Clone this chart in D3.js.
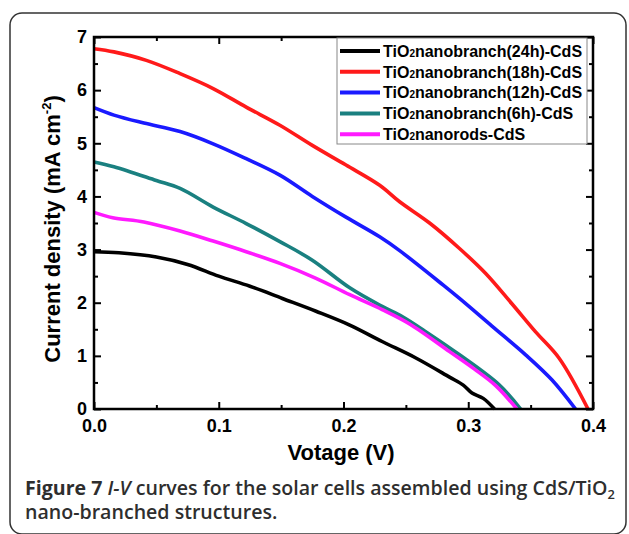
<!DOCTYPE html>
<html><head><meta charset="utf-8">
<script src="https://cdn.jsdelivr.net/npm/d3@7"></script>
<style>html,body{margin:0;padding:0;background:#fff;}svg{display:block;}</style>
</head><body>
<svg id="c" width="629" height="534"></svg>
<script>
// ---- data (V, J) ----
const legendLabels = ["nanobranch(24h)-CdS","nanobranch(18h)-CdS","nanobranch(12h)-CdS","nanobranch(6h)-CdS","nanorods-CdS"];
const colors = ["#000000","#ff1a1a","#1a1aff","#1a8080","#ff1aff"];
const black24 = [[0,2.96],[0.02,2.94],[0.05,2.86],[0.075,2.72],[0.1,2.50],[0.125,2.31],[0.151,2.08],[0.178,1.84],[0.205,1.58],[0.231,1.27],[0.258,0.96],[0.285,0.60],[0.296,0.45],[0.303,0.30],[0.312,0.20],[0.321,0]];
const red18 = [[0,6.78],[0.016,6.72],[0.042,6.56],[0.069,6.31],[0.0955,6.03],[0.122,5.68],[0.149,5.34],[0.175,4.96],[0.202,4.59],[0.229,4.21],[0.245,3.90],[0.269,3.50],[0.293,3.02],[0.314,2.55],[0.335,1.98],[0.354,1.45],[0.373,0.95],[0.396,0]];
const blue12 = [[0,5.67],[0.016,5.53],[0.04,5.38],[0.069,5.22],[0.0955,4.99],[0.122,4.71],[0.149,4.40],[0.175,4.00],[0.202,3.61],[0.229,3.24],[0.245,2.98],[0.28,2.33],[0.293,2.08],[0.319,1.56],[0.346,1.02],[0.367,0.55],[0.386,0]];
const teal6 = [[0,4.65],[0.016,4.56],[0.05,4.30],[0.069,4.15],[0.0955,3.80],[0.122,3.49],[0.149,3.15],[0.175,2.80],[0.205,2.28],[0.231,1.93],[0.247,1.74],[0.265,1.47],[0.293,1.02],[0.325,0.45],[0.342,0]];
const magentaRods = [[0,3.70],[0.015,3.60],[0.04,3.52],[0.069,3.35],[0.0955,3.16],[0.122,2.96],[0.149,2.74],[0.178,2.46],[0.205,2.15],[0.231,1.87],[0.253,1.60],[0.285,1.08],[0.305,0.75],[0.322,0.44],[0.339,0]];
const allSeries = [black24, red18, blue12, teal6, magentaRods];
const xTicks = [0,0.1,0.2,0.3,0.4];
const xMinor = [0.05,0.15,0.25,0.35];
const yTicks = [0,1,2,3,4,5,6,7];
const yMinor = [0.5,1.5,2.5,3.5,4.5,5.5,6.5];

const svg = d3.select("#c");
const FONT = "'Liberation Sans', Arial, sans-serif";

// frame
svg.append("rect").attr("x",10).attr("y",13).attr("width",616).attr("height",521)
  .attr("rx",12).attr("fill","none").attr("stroke","#333").attr("stroke-width",1.5);

const x = d3.scaleLinear().domain([0,0.4]).range([94,593]);
const y = d3.scaleLinear().domain([0,7]).range([409,37]);

// curves
const line = d3.line().x(d=>x(d[0])).y(d=>y(d[1])).curve(d3.curveCatmullRom.alpha(0.5));
allSeries.forEach((s,i)=>{
  svg.append("path").datum(s).attr("d",line).attr("fill","none")
    .attr("stroke",colors[i]).attr("stroke-width",3.6).attr("stroke-linejoin","round");
});

function styleAxis(g, labels){
  g.select(".domain").remove();
  g.selectAll(".tick line").attr("stroke","#000").attr("stroke-width",2);
  if(labels){
    g.selectAll(".tick text").attr("font-family",FONT).attr("font-weight","bold")
      .attr("font-size",18).attr("fill","#000");
  } else g.selectAll(".tick text").remove();
}
const fmt = d3.format(".1f");
styleAxis(svg.append("g").attr("transform","translate(0,409)")
  .call(d3.axisBottom(x).tickValues(xTicks).tickFormat(fmt).tickSize(-7).tickPadding(10)), true);
styleAxis(svg.append("g").attr("transform","translate(0,409)")
  .call(d3.axisBottom(x).tickValues(xMinor).tickSize(-4)), false);
styleAxis(svg.append("g").attr("transform","translate(0,37)")
  .call(d3.axisTop(x).tickValues(xTicks).tickSize(-7)), false);
styleAxis(svg.append("g").attr("transform","translate(0,37)")
  .call(d3.axisTop(x).tickValues(xMinor).tickSize(-4)), false);
styleAxis(svg.append("g").attr("transform","translate(94,0)")
  .call(d3.axisLeft(y).tickValues(yTicks).tickFormat(d3.format("d")).tickSize(-7).tickPadding(7)), true);
styleAxis(svg.append("g").attr("transform","translate(94,0)")
  .call(d3.axisLeft(y).tickValues(yMinor).tickSize(-4)), false);
styleAxis(svg.append("g").attr("transform","translate(593,0)")
  .call(d3.axisRight(y).tickValues(yTicks).tickSize(-7)), false);
styleAxis(svg.append("g").attr("transform","translate(593,0)")
  .call(d3.axisRight(y).tickValues(yMinor).tickSize(-4)), false);

// plot frame
svg.append("rect").attr("x",x(0)).attr("y",y(7)).attr("width",x(0.4)-x(0)).attr("height",y(0)-y(7))
  .attr("fill","none").attr("stroke","#000").attr("stroke-width",2.5);

// legend
const lg = svg.append("g");
lg.append("rect").attr("x",337).attr("y",38).attr("width",250).attr("height",106)
  .attr("fill","#fff").attr("stroke","#888").attr("stroke-width",1);
legendLabels.forEach((t,i)=>{
  const cy = 51 + i*20.8;
  lg.append("line").attr("x1",340).attr("x2",380).attr("y1",cy).attr("y2",cy)
    .attr("stroke",colors[i]).attr("stroke-width",4);
  const tx = lg.append("text").attr("x",383).attr("y",cy+5.8).attr("font-family",FONT)
    .attr("font-weight","bold").attr("font-size",16).attr("fill","#000");
  tx.append("tspan").text("TiO");
  tx.append("tspan").attr("font-size",10).text("2");
  tx.append("tspan").text(t);
});

// axis titles
const yt = svg.append("text").attr("transform","translate(60,229) rotate(-90)")
  .attr("text-anchor","middle").attr("font-family",FONT).attr("font-weight","bold")
  .attr("font-size",22).attr("fill","#000");
yt.append("tspan").text("Current density (mA cm");
yt.append("tspan").attr("font-size",13).attr("dy",-9).text("-2");
yt.append("tspan").attr("dy",9).text(")");

svg.append("text").attr("x",341).attr("y",460).attr("text-anchor","middle")
  .attr("font-family",FONT).attr("font-weight","bold").attr("font-size",22).attr("fill","#000")
  .text("Votage (V)");

// caption: separate text pieces laid out in sequence
const CF = "'Open Sans','Noto Sans',sans-serif";
const pieces = [
  {t:"Figure 7", w:700, s:"normal", sub:false, gapAfter:true},
  {t:"I-V", w:600, s:"italic", sub:false, gapAfter:true},
  {t:"curves for the solar cells assembled using CdS/TiO", w:600, s:"normal", sub:false, gapAfter:false},
  {t:"2", w:600, s:"normal", sub:true, gapAfter:false}
];
function mk(p, fs){
  return svg.append("text").attr("y", p.sub ? 499 : 495).attr("font-family",CF)
    .attr("font-size", p.sub ? fs*0.66 : fs).attr("font-weight",p.w).attr("font-style",p.s)
    .attr("fill","#2e2e2e").text(p.t);
}
let base = 18;
let nodes = pieces.map(p=>mk(p, base));
const space = base*0.26;
let total = nodes.reduce((a,n)=>a+n.node().getComputedTextLength(),0) + space*2;
const fs = base*590/total;
nodes.forEach(n=>n.remove());
nodes = pieces.map(p=>mk(p, fs));
let cx = 25;
nodes.forEach((n,i)=>{
  n.attr("x",cx);
  cx += n.node().getComputedTextLength() + (pieces[i].gapAfter ? fs*0.26 : 0);
});
svg.append("text").attr("x",25).attr("y",519).attr("font-family",CF)
  .attr("font-size",fs).attr("fill","#2e2e2e").attr("font-weight",600)
  .text("nano-branched structures.");
</script>
</body></html>
